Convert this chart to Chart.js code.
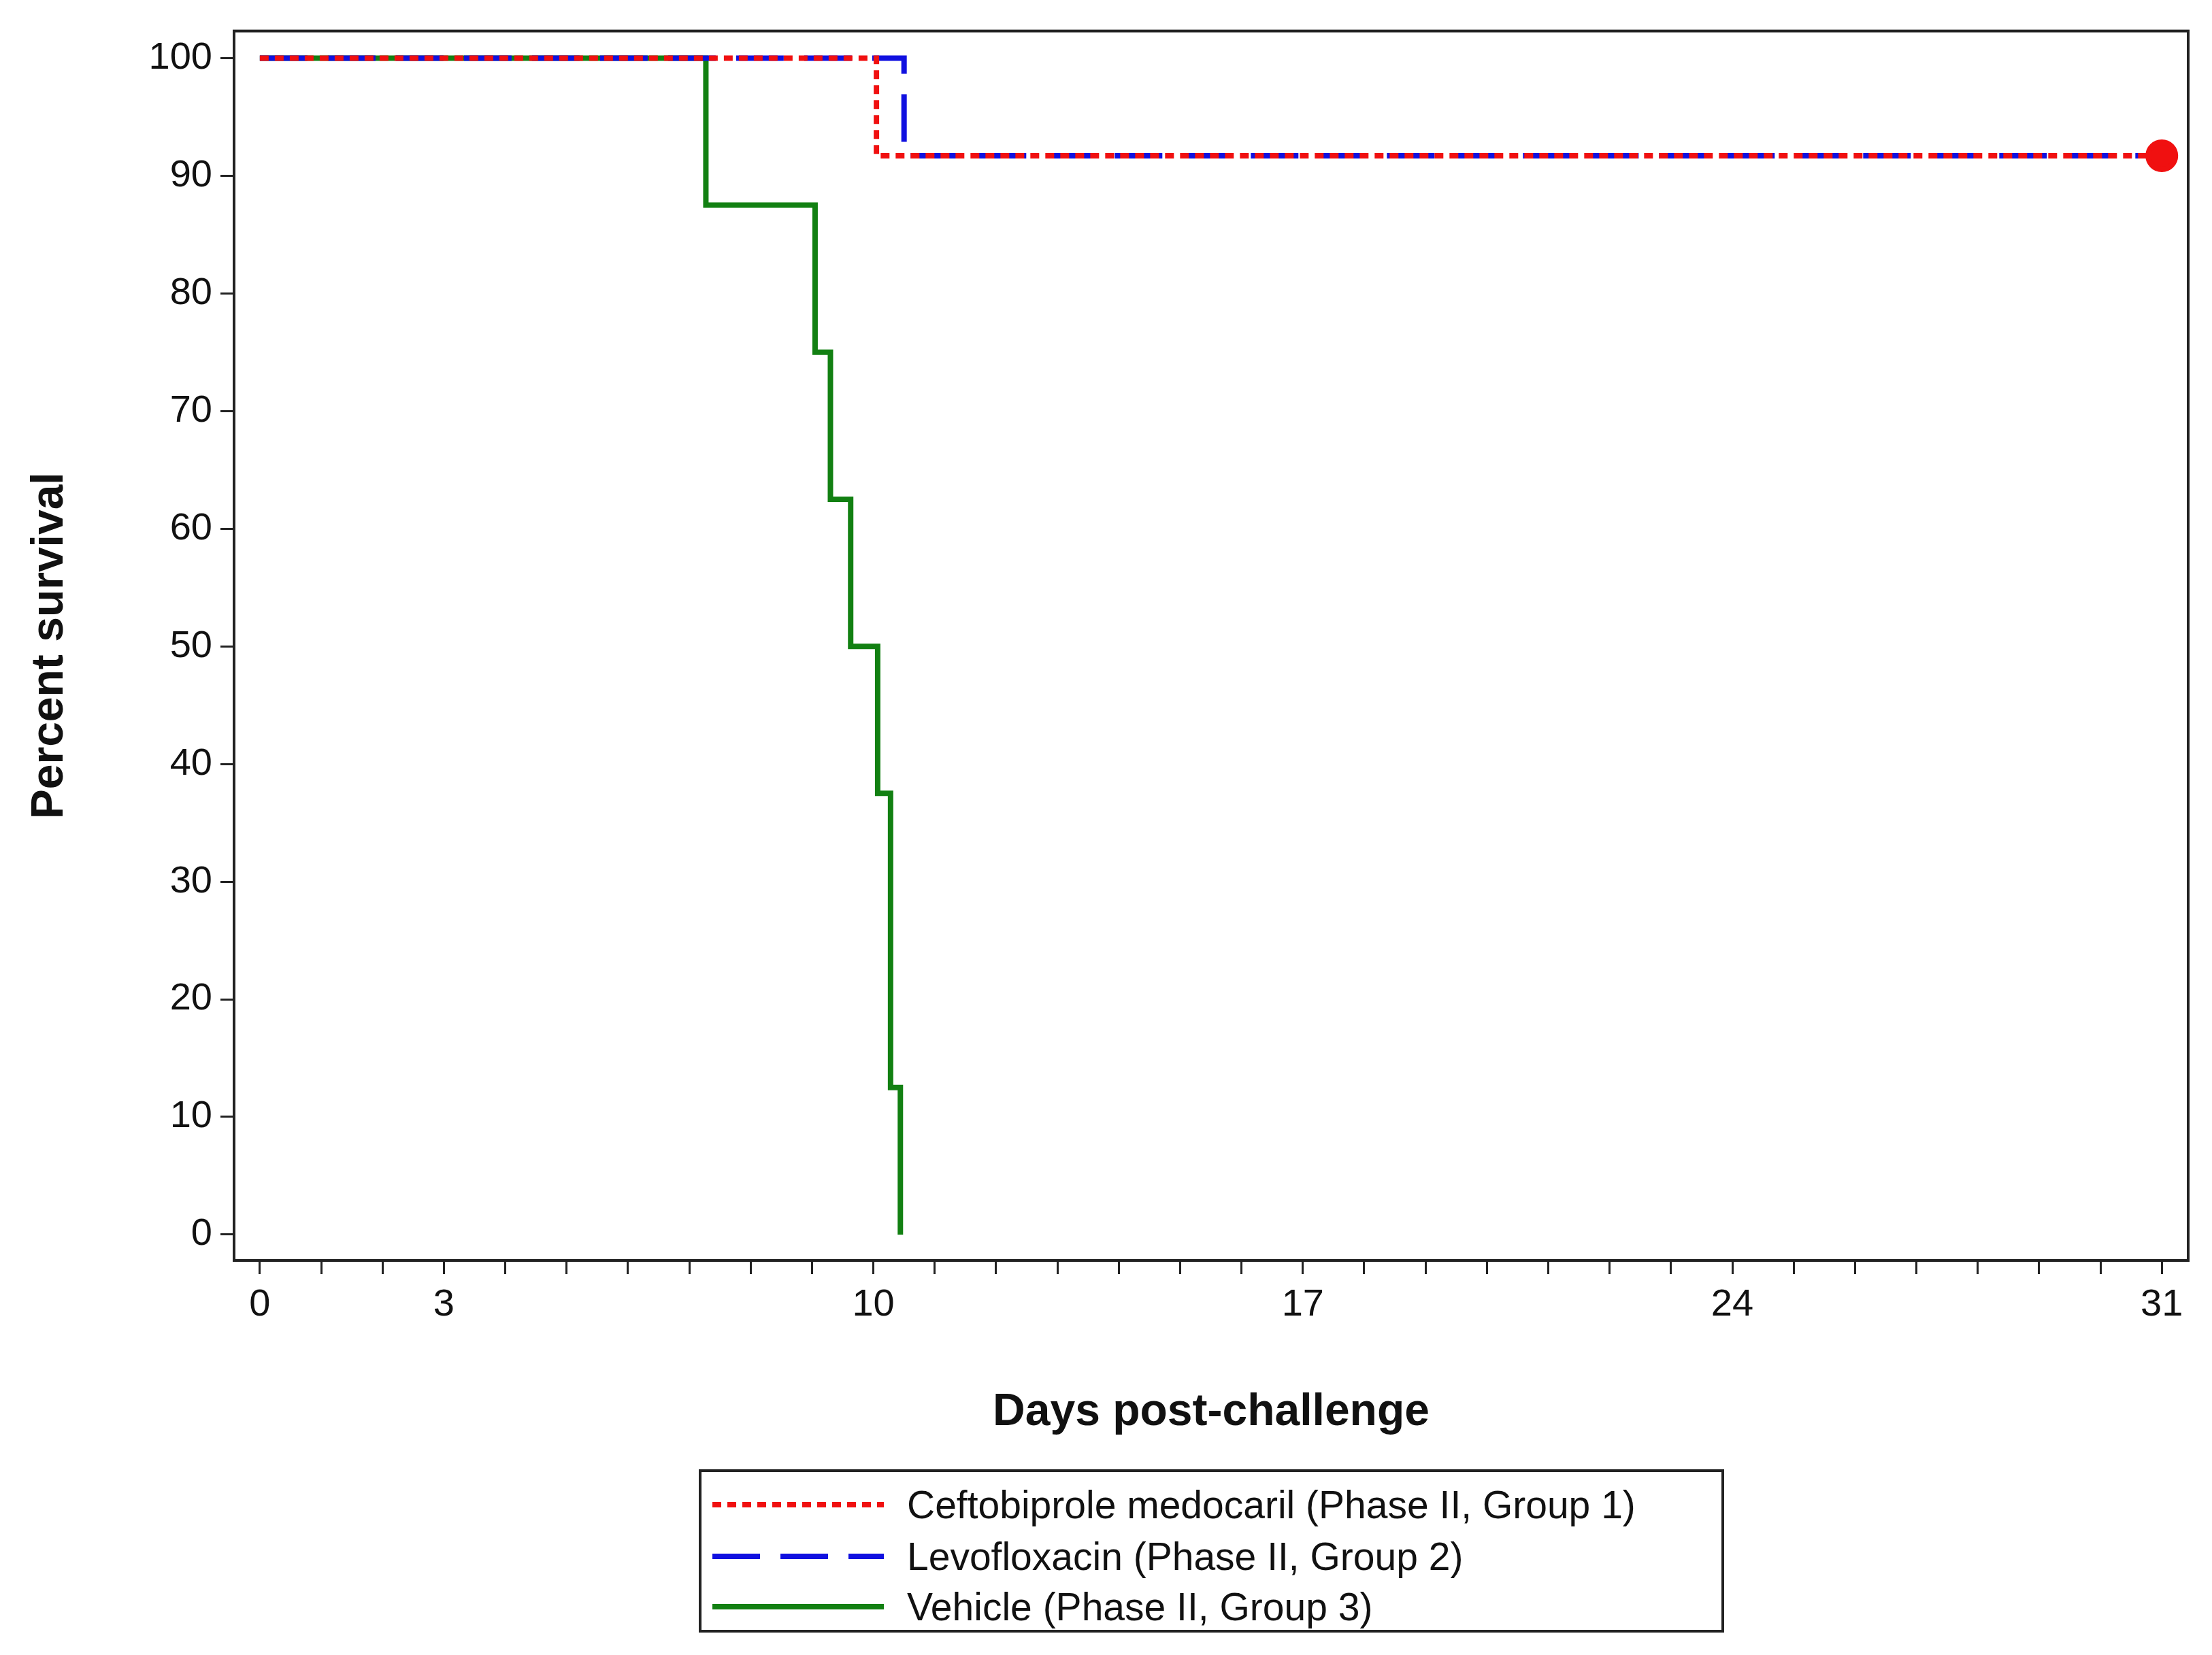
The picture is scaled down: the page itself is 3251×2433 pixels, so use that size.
<!DOCTYPE html>
<html><head><meta charset="utf-8">
<script src="https://cdn.jsdelivr.net/npm/chart.js@4"></script>
<style>
body{margin:0;background:#fff;font-family:"Liberation Sans",Arial,sans-serif;}
#wrap{position:absolute;left:0;top:0;width:3251px;height:2120px;}
#legend{position:absolute;left:1027px;top:2160px;width:1507px;height:240px;border:4px solid #222;box-sizing:border-box;font-size:57px;color:#111;}
.row{position:absolute;left:16px;height:64px;display:flex;align-items:center;}
.row svg{margin-right:34px;}
</style></head><body>
<div id="wrap"><canvas id="km"></canvas></div>
<div id="legend">
  <div class="row" style="top:16px"><svg width="252" height="14"><line x1="0" y1="7" x2="252" y2="7" stroke="#f01010" stroke-width="8" stroke-dasharray="13,9"/></svg>Ceftobiprole medocaril (Phase II, Group 1)</div>
  <div class="row" style="top:92px"><svg width="252" height="14"><line x1="0" y1="7" x2="252" y2="7" stroke="#1010e0" stroke-width="8" stroke-dasharray="70,30"/></svg>Levofloxacin (Phase II, Group 2)</div>
  <div class="row" style="top:166px"><svg width="252" height="14"><line x1="0" y1="7" x2="252" y2="7" stroke="#128012" stroke-width="8"/></svg>Vehicle (Phase II, Group 3)</div>
</div>
<script>
const redDays = [0, 10.05, 31];
const redSurv = [100, 91.7, 91.7];
const blueDays = [0, 10.5, 31];
const blueSurv = [100, 91.7, 91.7];
const greenDays = [0, 7.27, 9.05, 9.3, 9.63, 10.07, 10.28, 10.44];
const greenSurv = [100, 87.5, 75, 62.5, 50, 37.5, 12.5, 0];
const xLabels = [0, 3, 10, 17, 24, 31];

const pts = (d, s) => d.map((x, i) => ({x: x, y: s[i]}));

const frame = {
  id: 'frame',
  afterDraw(c) {
    const a = c.chartArea, ctx = c.ctx;
    ctx.save(); ctx.strokeStyle = '#222'; ctx.lineWidth = 4;
    ctx.strokeRect(a.left, a.top, a.right - a.left, a.bottom - a.top);
    ctx.restore();
  }
};

// first dataset is drawn on top
new Chart(document.getElementById('km'), {
  type: 'line',
  plugins: [frame],
  data: {
    datasets: [
      {label: 'Ceftobiprole medocaril (Phase II, Group 1)', data: pts(redDays, redSurv), borderColor: '#f01010', borderWidth: 8, borderDash: [13, 9], stepped: true,
        pointRadius: [0, 0, 20], pointBackgroundColor: '#f01010', pointBorderColor: '#f01010'},
      {label: 'Levofloxacin (Phase II, Group 2)', data: pts(blueDays, blueSurv), borderColor: '#1010e0', borderWidth: 8, borderDash: [70, 30], stepped: true, pointRadius: 0},
      {label: 'Vehicle (Phase II, Group 3)', data: pts(greenDays, greenSurv), borderColor: '#128012', borderWidth: 8, stepped: true, pointRadius: 0}
    ]
  },
  options: {
    responsive: true, maintainAspectRatio: false, animation: false,
    layout: {padding: {top: 35, right: 35, left: 30, bottom: 0}},
    plugins: {legend: {display: false}, tooltip: {enabled: false}},
    scales: {
      x: {
        type: 'linear', min: -0.42, max: 31.43,
        afterBuildTicks: s => { s.ticks = Array.from({length: 32}, (_, i) => ({value: i})); },
        ticks: {autoSkip: false, maxRotation: 0, color: '#111', font: {size: 56, family: 'Liberation Sans'}, padding: 12,
          callback: v => xLabels.includes(v) ? v : ''},
        grid: {drawOnChartArea: false, drawTicks: true, tickLength: 20, color: '#222', lineWidth: 3},
        border: {display: false},
        title: {display: true, text: 'Days post-challenge', color: '#111', font: {size: 66, weight: 'bold', family: 'Liberation Sans'}, padding: {top: 30}},
        afterFit: s => { s.height = 267; }
      },
      y: {
        min: -2.2, max: 102.3,
        afterBuildTicks: s => { s.ticks = Array.from({length: 11}, (_, i) => ({value: i * 10})); },
        ticks: {color: '#111', font: {size: 56, family: 'Liberation Sans'}, padding: 12},
        grid: {drawOnChartArea: false, drawTicks: true, tickLength: 20, color: '#222', lineWidth: 3},
        border: {display: false},
        title: {display: true, text: 'Percent survival', color: '#111', font: {size: 66, weight: 'bold', family: 'Liberation Sans'}, padding: {bottom: 0}},
        afterFit: s => { s.width = 314; }
      }
    }
  }
});
</script>
</body></html>
